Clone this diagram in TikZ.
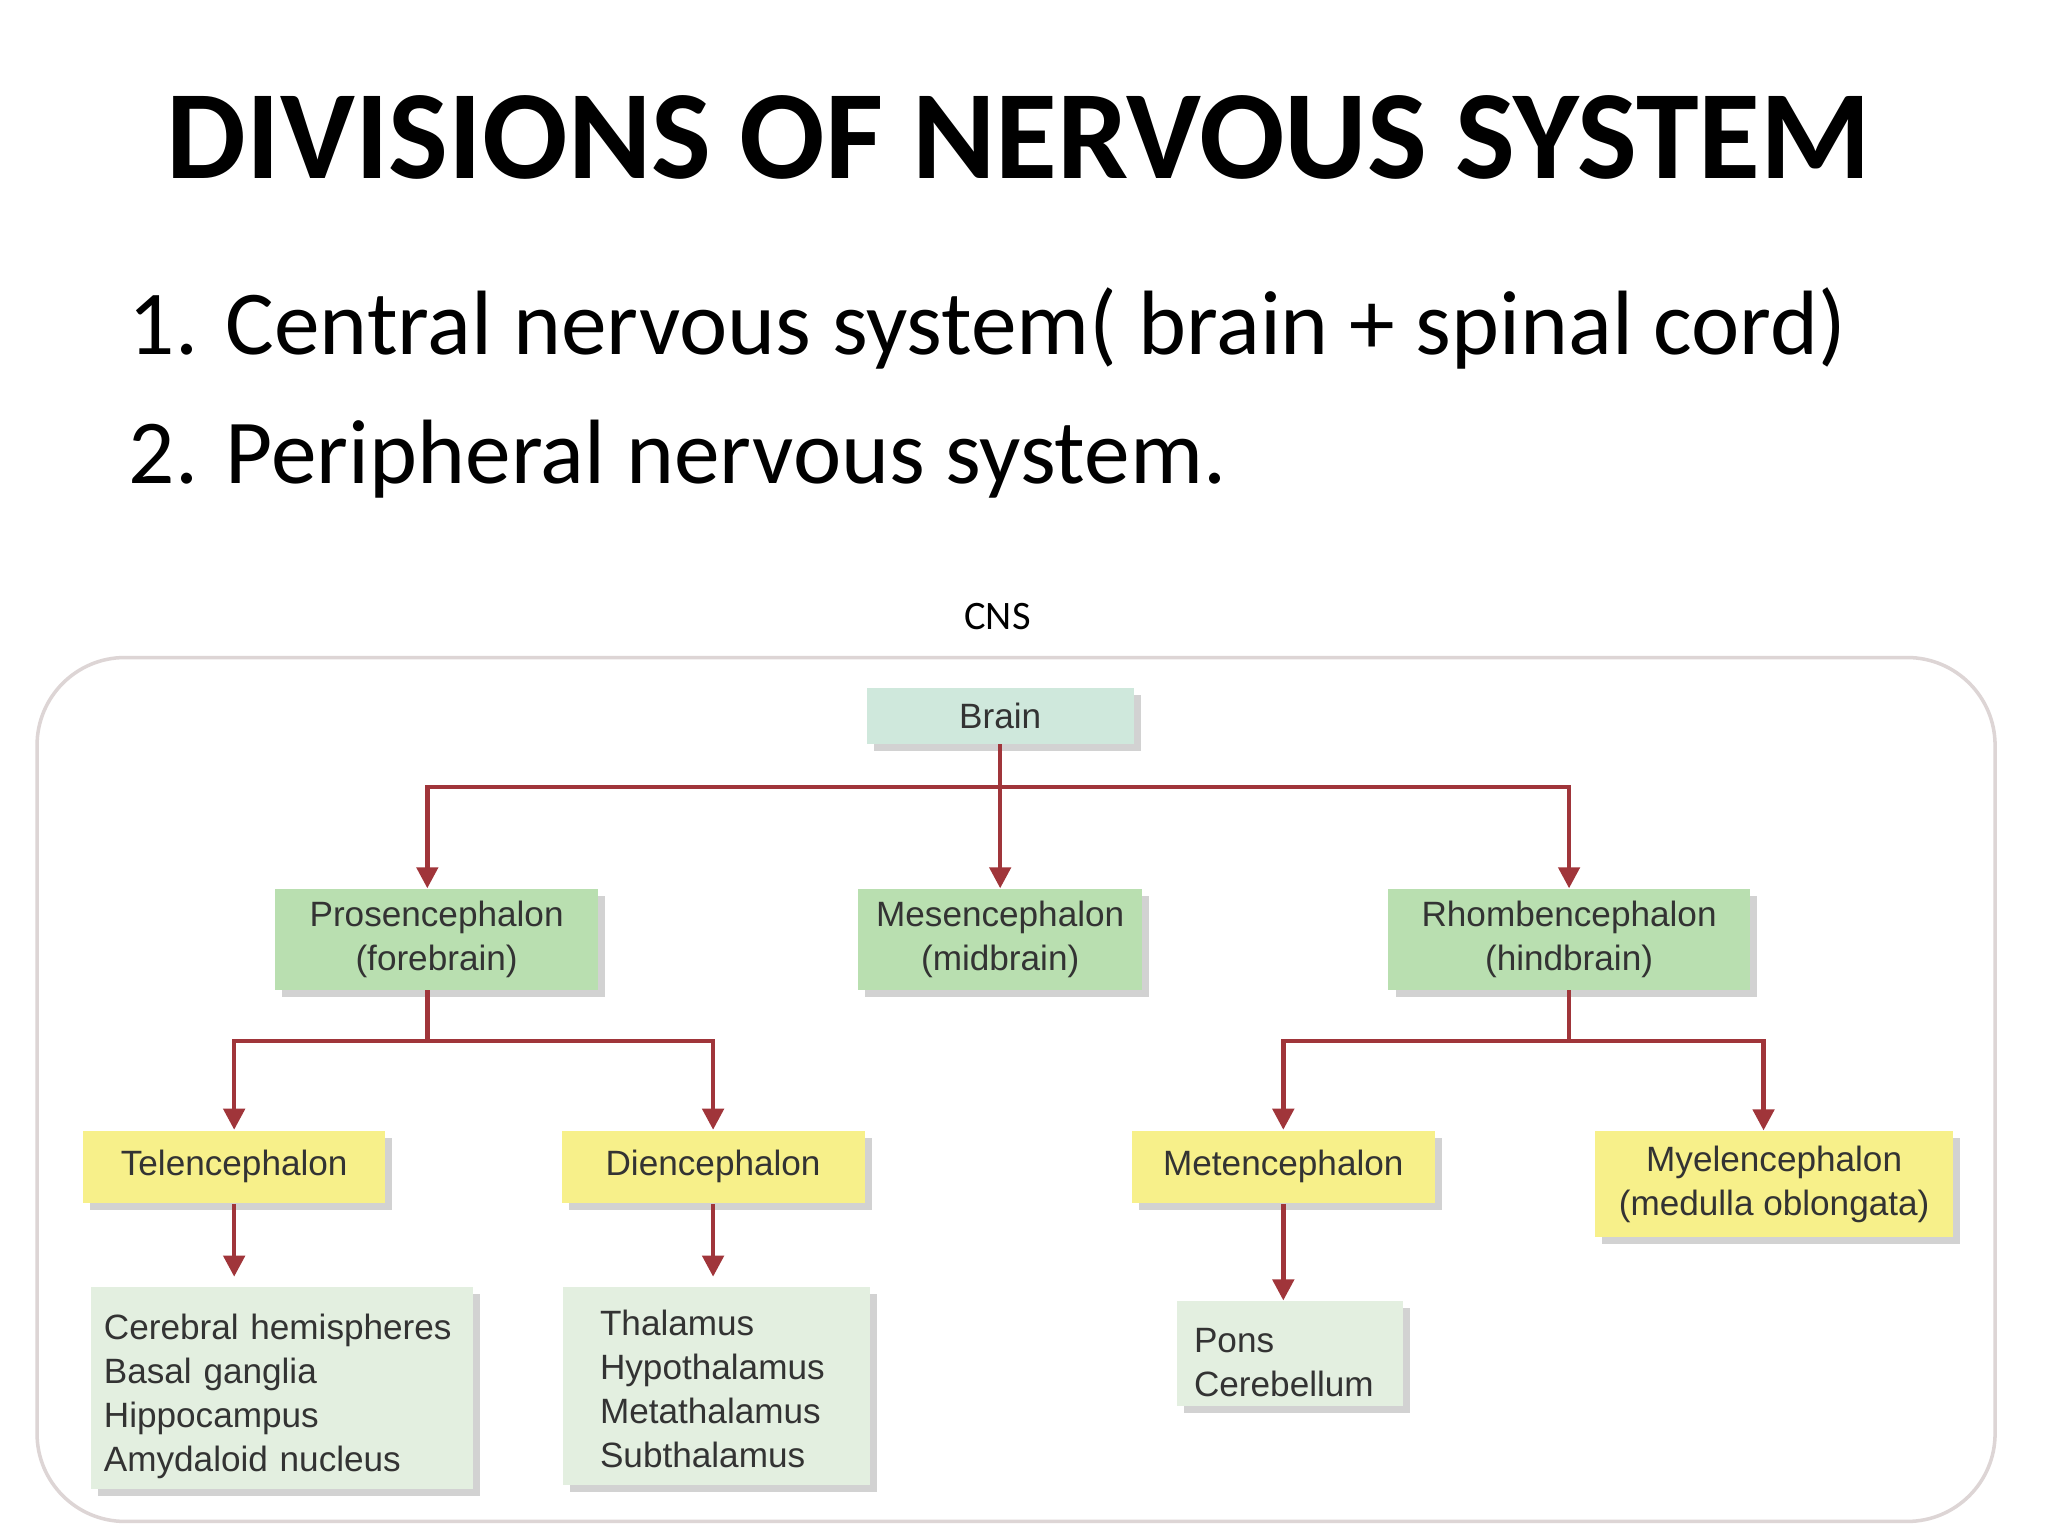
\documentclass[tikz,border=0pt]{standalone}
\usepackage{fontspec}
\setmainfont{Carlito}
\newfontfamily\arialf{Liberation Sans}
\usetikzlibrary{shadows,arrows.meta}
\def\px{0.01323cm}
\definecolor{arr}{HTML}{A0353A}
\definecolor{teal}{HTML}{CFE8DC}
\definecolor{grn}{HTML}{B9DFB0}
\definecolor{yel}{HTML}{F7F08A}
\definecolor{leaf}{HTML}{E3EFE0}
\begin{document}
\begin{tikzpicture}[x=0.01323cm,y=-0.01323cm,
  box/.style={draw=none,inner sep=2pt,align=center,font=\arialf\fontsize{10}{12.5}\selectfont,text=black!80,
    drop shadow={opacity=0.35,shadow xshift=2pt,shadow yshift=-2pt}},
  lf/.style={box,fill=leaf,align=left,anchor=north west,inner sep=0pt},
  ln/.style={draw=arr,line width=1.3pt},
  ar/.style={ln,-{Triangle[length=6pt,width=6pt]}}]
\useasboundingbox (0,0) rectangle (1548,1161);
\fill[white] (0,0) rectangle (1548,1161);
\node[font=\bfseries\fontsize{36}{43}\selectfont] (title) at (770,104) {DIVISIONS OF NERVOUS SYSTEM};
\node[anchor=west,font=\fontsize{26}{30}\selectfont] (l1) at (88,248) {1. Central nervous system( brain + spinal cord)};
\node[anchor=west,font=\fontsize{26}{30}\selectfont] (l2) at (88,347) {2. Peripheral nervous system.};
\node[font=\fontsize{11.5}{14}\selectfont] (cns) at (754,466) {CNS};
\draw[draw=red!10!gray!30,line width=1pt,rounded corners=25pt] (28,497) rectangle (1508,1150);

\node[box,fill=teal,minimum width=202*\px,minimum height=42*\px] (brain) at (756,541) {Brain};
\node[box,fill=grn,minimum width=244*\px,minimum height=76*\px] (pros) at (330,710) {Prosencephalon\\(forebrain)};
\node[box,fill=grn,minimum width=215*\px,minimum height=76*\px] (mes) at (756,710) {Mesencephalon\\(midbrain)};
\node[box,fill=grn,minimum width=273*\px,minimum height=76*\px] (rhomb) at (1186,710) {Rhombencephalon\\(hindbrain)};
\node[box,fill=yel,minimum width=228*\px,minimum height=55*\px] (tel) at (177,882) {Telencephalon};
\node[box,fill=yel,minimum width=229*\px,minimum height=55*\px] (die) at (539,882) {Diencephalon};
\node[box,fill=yel,minimum width=229*\px,minimum height=55*\px] (met) at (970,882) {Metencephalon};
\node[box,fill=yel,minimum width=271*\px,minimum height=80*\px] (mye) at (1341,895) {Myelencephalon\\(medulla oblongata)};
\node[lf,minimum height=153*\px,inner xsep=10*\px,text width=269*\px] (cer) at (68,972)
  {\rule{0pt}{12pt}Cerebral hemispheres\\Basal ganglia\\Hippocampus\\Amydaloid nucleus};
\node[lf,minimum height=150*\px,inner xsep=28*\px,text width=176*\px] (tha) at (425,972)
  {\rule{0pt}{9pt}Thalamus\\Hypothalamus\\Metathalamus\\Subthalamus};
\node[lf,minimum height=79*\px,inner xsep=13*\px,text width=145*\px] (pons) at (889,983)
  {\rule{0pt}{12pt}Pons\\Cerebellum};

\coordinate (bj) at (756,595);
\coordinate (pj) at (323,787);
\coordinate (rj) at (1186,787);
\draw[ln] (brain.south) -- (bj);
\draw[ar] (bj) -| ([xshift=-7*\px]pros.north);
\draw[ar] (bj) -| (rhomb.north);
\draw[ar] (brain.south) -- (mes.north);
\draw[ln] ([xshift=-7*\px]pros.south) -- (pj);
\draw[ar] (pj) -| (tel.north);
\draw[ar] (pj) -| (die.north);
\draw[ln] (rhomb.south) -- (rj);
\draw[ar] (rj) -| (met.north);
\draw[ar] (rj) -| ([xshift=-8*\px]mye.north);
\draw[ar] (tel.south) -- ++(0,55);
\draw[ar] (die.south) -- ++(0,55);
\draw[ar] (met.south) -- (met.south |- pons.north);
\end{tikzpicture}
\end{document}
